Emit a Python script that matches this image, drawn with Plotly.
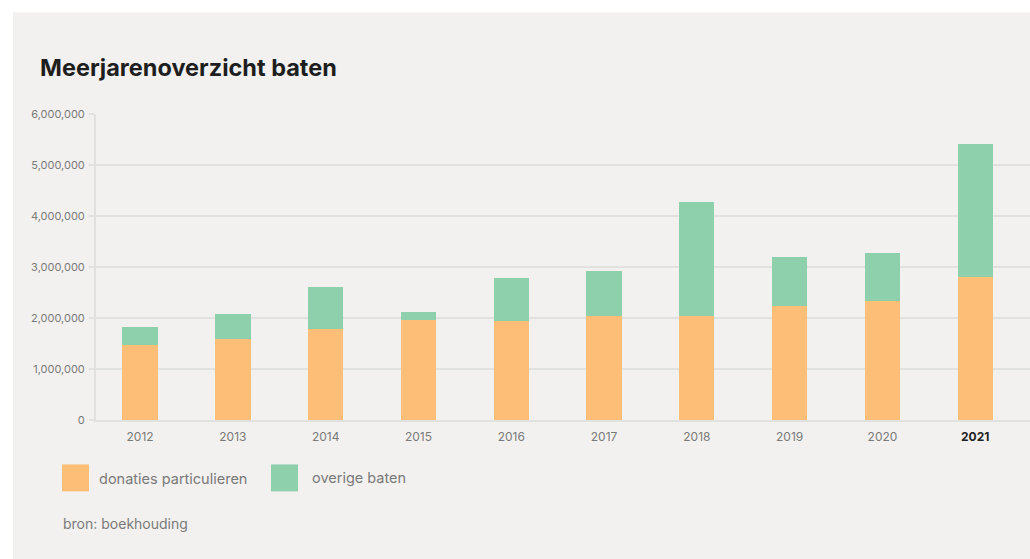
import plotly.graph_objects as go

years = ["2012", "2013", "2014", "2015", "2016", "2017", "2018", "2019", "2020", "2021"]
donaties = [1470000, 1585000, 1790000, 1960000, 1940000, 2030000, 2030000, 2230000, 2330000, 2800000]
overige = [350000, 485000, 810000, 150000, 840000, 890000, 2240000, 960000, 940000, 2620000]
tick_vals = [0, 1000000, 2000000, 3000000, 4000000, 5000000, 6000000]
tick_text = ["0", "1,000,000", "2,000,000", "3,000,000", "4,000,000", "5,000,000", "6,000,000"]
x_labels = years[:-1] + ["<span style='color:#222;font-weight:bold'><b>2021</b></span>"]

ORANGE = "#fdbe77"
GREEN = "#8ecfac"
BG = "#f2f1ef"
GRID = "#e1e1df"
GRAY = "#7a7a7a"
FONT = "Inter, Roboto, sans-serif"

W, H = 1030, 559
L, R, T, B = 96, 0, 114, 138.5
PW, PH = W - L - R, H - T - B


def px(x):
    return (x - L) / PW


def py(y):
    return (H - B - y) / PH


fig = go.Figure()
fig.add_trace(go.Bar(x=years, y=donaties, name="donaties particulieren",
                     marker=dict(color=ORANGE, line=dict(width=0)), width=0.38))
fig.add_trace(go.Bar(x=years, y=overige, name="overige baten",
                     marker=dict(color=GREEN, line=dict(width=0)), width=0.38))

shapes = [
    dict(type="rect", xref="paper", yref="paper", x0=px(13), x1=px(W + 5), y0=py(12), y1=py(H + 5),
         fillcolor=BG, line=dict(width=0), layer="below"),
    dict(type="rect", xref="paper", yref="paper", x0=px(62), x1=px(89), y0=py(465), y1=py(492),
         fillcolor=ORANGE, line=dict(width=0)),
    dict(type="rect", xref="paper", yref="paper", x0=px(271), x1=px(298), y0=py(465), y1=py(492),
         fillcolor=GREEN, line=dict(width=0)),
]

annotations = [
    dict(text="<b>Meerjarenoverzicht baten</b>", xref="paper", yref="paper", x=px(38), y=py(67),
         xanchor="left", yanchor="middle", showarrow=False, font=dict(family=FONT, size=23.5, color="#1e1e1e")),
    dict(text="donaties particulieren", xref="paper", yref="paper", x=px(97), y=py(479),
         xanchor="left", yanchor="middle", showarrow=False, font=dict(family=FONT, size=14.5, color=GRAY)),
    dict(text="overige baten", xref="paper", yref="paper", x=px(310), y=py(479),
         xanchor="left", yanchor="middle", showarrow=False, font=dict(family=FONT, size=14.5, color=GRAY)),
    dict(text="bron: boekhouding", xref="paper", yref="paper", x=px(61), y=py(524),
         xanchor="left", yanchor="middle", showarrow=False, font=dict(family=FONT, size=14, color=GRAY)),
]

fig.update_layout(
    width=W, height=H, barmode="stack", showlegend=False,
    margin=dict(l=L, r=R, t=T, b=B, pad=0),
    paper_bgcolor="white", plot_bgcolor=BG,
    font=dict(family=FONT, color=GRAY),
    shapes=shapes, annotations=annotations,
    xaxis=dict(type="category", range=[-0.475, 9.59], tickvals=years, ticktext=x_labels,
               showgrid=False, showline=True, linecolor=GRID, linewidth=2,
               ticks="", ticklabelstandoff=5,
               tickfont=dict(size=12, color=GRAY, family=FONT), fixedrange=True),
    yaxis=dict(range=[0, 6000000], tickvals=tick_vals, ticktext=tick_text,
               showgrid=True, gridcolor=GRID, gridwidth=2, zeroline=False,
               showline=True, linecolor=GRID, linewidth=2,
               ticks="outside", ticklen=5, tickcolor=GRID, tickwidth=1.5, ticklabelstandoff=2,
               tickfont=dict(size=11, color=GRAY, family=FONT), fixedrange=True),
)

fig.write_html("out.html")
